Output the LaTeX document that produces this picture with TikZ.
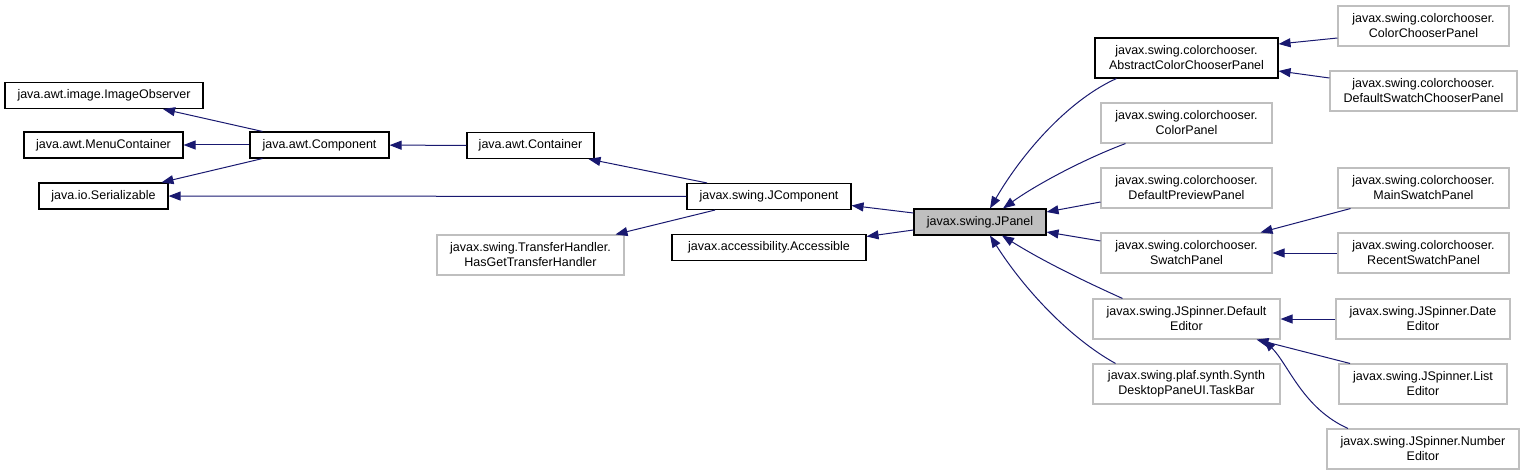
\documentclass[tikz,border=0pt]{standalone}
\usepackage{fontspec}
\setmainfont{Liberation Sans}
\usetikzlibrary{arrows.meta}
\definecolor{edgeblue}{HTML}{191970}
\definecolor{greyline}{HTML}{BFBFBF}
\definecolor{greyfill}{HTML}{BFBFBF}
\begin{document}
\begin{tikzpicture}[x=1pt, y=-1pt, cls node/.style={rectangle,draw=black,line width=1.1pt,inner sep=0pt,align=center,minimum height=26pt,font=\fontsize{12.5}{15}\selectfont}, ext node/.style={cls node,draw=greyline,minimum height=40pt}, inh/.style={draw=edgeblue,line width=1pt,-{Triangle[length=12pt,width=9pt]}}]
\useasboundingbox (0,0) rectangle (1524,476);
\begin{scope}
\node[cls node, minimum width=198pt] (imgobs) at (104,95.5) {java.awt.image.ImageObserver};
\node[cls node, minimum width=159pt] (menucont) at (103.5,145) {java.awt.MenuContainer};
\node[cls node, minimum width=129pt] (serial) at (103.5,196) {java.io.Serializable};
\node[cls node, minimum width=139pt] (component) at (319.5,145) {java.awt.Component};
\node[cls node, minimum width=127pt] (container) at (530.5,145.5) {java.awt.Container};
\node[cls node, minimum width=164pt] (jcomp) at (769,196.5) {javax.swing.JComponent};
\node[ext node, minimum width=187pt] (transfer) at (530.5,255) {javax.swing.TransferHandler.\\HasGetTransferHandler};
\node[cls node, minimum width=194pt] (access) at (769,247.5) {javax.accessibility.Accessible};
\node[cls node, minimum width=132pt, fill=greyfill] (jpanel) at (980,222) {javax.swing.JPanel};
\node[cls node, minimum width=183pt, minimum height=40pt] (abstractcc) at (1186.5,58) {javax.swing.colorchooser.\\AbstractColorChooserPanel};
\node[ext node, minimum width=171pt] (colorpanel) at (1186.5,123) {javax.swing.colorchooser.\\ColorPanel};
\node[ext node, minimum width=171pt] (preview) at (1186.5,188) {javax.swing.colorchooser.\\DefaultPreviewPanel};
\node[ext node, minimum width=171pt] (swatch) at (1186.5,253) {javax.swing.colorchooser.\\SwatchPanel};
\node[ext node, minimum width=187pt] (defeditor) at (1186.5,319) {javax.swing.JSpinner.Default\\Editor};
\node[ext node, minimum width=187pt] (taskbar) at (1186.5,384) {javax.swing.plaf.synth.Synth\\DesktopPaneUI.TaskBar};
\node[ext node, minimum width=171pt] (ccpanel) at (1423.5,26) {javax.swing.colorchooser.\\ColorChooserPanel};
\node[ext node, minimum width=187pt] (defswatch) at (1423.5,91) {javax.swing.colorchooser.\\DefaultSwatchChooserPanel};
\node[ext node, minimum width=171pt] (mainswatch) at (1423.5,188) {javax.swing.colorchooser.\\MainSwatchPanel};
\node[ext node, minimum width=171pt] (recentswatch) at (1423.5,253) {javax.swing.colorchooser.\\RecentSwatchPanel};
\node[ext node, minimum width=174pt] (dateeditor) at (1423,319) {javax.swing.JSpinner.Date\\Editor};
\node[ext node, minimum width=168pt] (listeditor) at (1423,384) {javax.swing.JSpinner.List\\Editor};
\node[ext node, minimum width=192pt] (numeditor) at (1423,449) {javax.swing.JSpinner.Number\\Editor};
\end{scope}
\begin{scope}[every edge/.style={draw,inh}]
\draw ([xshift=-57pt]component.north) edge ([xshift=59pt]imgobs.south);
\draw (component) edge (menucont);
\draw ([xshift=-57pt]component.south) edge ([xshift=58pt]serial.north);
\draw (container) edge (component);
\draw ([xshift=-62pt]jcomp.north) edge ([xshift=58pt]container.south);
\draw (jcomp) edge (serial);
\draw ([xshift=-54pt]jcomp.south) edge ([xshift=85pt]transfer.north);
\draw ([yshift=9pt]jpanel.west) edge ([yshift=-9pt]jcomp.east);
\draw ([yshift=-8pt]jpanel.west) edge ([yshift=11pt]access.east);
\draw[inh] ([xshift=-70pt]abstractcc.south) .. controls +(-45,20) and +(35,-60) .. ([xshift=10pt]jpanel.north);
\draw[inh] ([xshift=-61pt]colorpanel.south) .. controls +(-40,15) and +(35,-25) .. ([xshift=23pt]jpanel.north);
\draw ([yshift=-14pt]preview.west) edge ([yshift=10pt]jpanel.east);
\draw ([yshift=12pt]swatch.west) edge ([yshift=-10pt]jpanel.east);
\draw[inh] ([xshift=-64pt]defeditor.north) .. controls +(-40,-18) and +(40,25) .. ([xshift=22pt]jpanel.south);
\draw[inh] ([xshift=-71pt]taskbar.north) .. controls +(-45,-25) and +(35,55) .. ([xshift=10pt]jpanel.south);
\draw ([yshift=-12pt]ccpanel.west) edge ([yshift=14pt]abstractcc.east);
\draw ([yshift=13pt]defswatch.west) edge ([yshift=-13pt]abstractcc.east);
\draw ([xshift=-73pt]mainswatch.south) edge ([xshift=74pt]swatch.north);
\draw (recentswatch) edge (swatch);
\draw (dateeditor) edge (defeditor);
\draw ([xshift=-73pt]listeditor.north) edge ([xshift=70pt]defeditor.south);
\draw[inh] ([xshift=-75pt]numeditor.north) .. controls +(-45,-20) and +(25,25) .. ([xshift=77pt]defeditor.south);
\end{scope}
\end{tikzpicture}
\end{document}
